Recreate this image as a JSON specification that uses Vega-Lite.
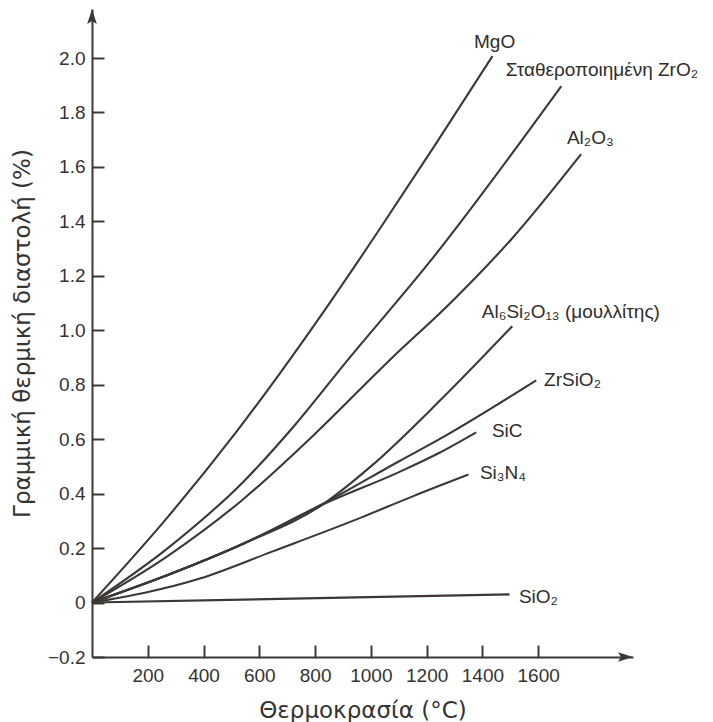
{
  "$schema": "https://vega.github.io/schema/vega-lite/v6.json",
  "width": 541,
  "height": 648,
  "autosize": "none",
  "padding": {"left": 92, "top": 9, "right": 80, "bottom": 65},
  "background": "white",
  "config": {"view": {"stroke": null}, "font": "Liberation Sans"},
  "datasets": {
    "curves": [
      {"material": "MgO", "temp": 0, "expansion": 0},
      {"material": "MgO", "temp": 260, "expansion": 0.3},
      {"material": "MgO", "temp": 519, "expansion": 0.629},
      {"material": "MgO", "temp": 852, "expansion": 1.1},
      {"material": "MgO", "temp": 1024, "expansion": 1.36},
      {"material": "MgO", "temp": 1230, "expansion": 1.68},
      {"material": "MgO", "temp": 1436, "expansion": 2.007},
      {"material": "ZrO2", "temp": 0, "expansion": 0},
      {"material": "ZrO2", "temp": 272, "expansion": 0.2},
      {"material": "ZrO2", "temp": 544, "expansion": 0.445},
      {"material": "ZrO2", "temp": 730, "expansion": 0.655},
      {"material": "ZrO2", "temp": 913, "expansion": 0.886},
      {"material": "ZrO2", "temp": 1210, "expansion": 1.25},
      {"material": "ZrO2", "temp": 1683, "expansion": 1.897},
      {"material": "Al2O3", "temp": 0, "expansion": 0},
      {"material": "Al2O3", "temp": 270, "expansion": 0.17},
      {"material": "Al2O3", "temp": 537, "expansion": 0.375},
      {"material": "Al2O3", "temp": 800, "expansion": 0.62},
      {"material": "Al2O3", "temp": 1067, "expansion": 0.89},
      {"material": "Al2O3", "temp": 1300, "expansion": 1.115},
      {"material": "Al2O3", "temp": 1500, "expansion": 1.33},
      {"material": "Al2O3", "temp": 1754, "expansion": 1.647},
      {"material": "Mullite", "temp": 0, "expansion": 0},
      {"material": "Mullite", "temp": 276, "expansion": 0.103},
      {"material": "Mullite", "temp": 544, "expansion": 0.217},
      {"material": "Mullite", "temp": 827, "expansion": 0.36},
      {"material": "Mullite", "temp": 1000, "expansion": 0.5},
      {"material": "Mullite", "temp": 1246, "expansion": 0.74},
      {"material": "Mullite", "temp": 1507, "expansion": 1.015},
      {"material": "ZrSiO2", "temp": 0, "expansion": 0},
      {"material": "ZrSiO2", "temp": 276, "expansion": 0.103},
      {"material": "ZrSiO2", "temp": 544, "expansion": 0.217},
      {"material": "ZrSiO2", "temp": 827, "expansion": 0.362},
      {"material": "ZrSiO2", "temp": 1103, "expansion": 0.52},
      {"material": "ZrSiO2", "temp": 1246, "expansion": 0.6},
      {"material": "ZrSiO2", "temp": 1593, "expansion": 0.816},
      {"material": "SiC", "temp": 0, "expansion": 0},
      {"material": "SiC", "temp": 276, "expansion": 0.103},
      {"material": "SiC", "temp": 544, "expansion": 0.217},
      {"material": "SiC", "temp": 827, "expansion": 0.36},
      {"material": "SiC", "temp": 1103, "expansion": 0.48},
      {"material": "SiC", "temp": 1246, "expansion": 0.55},
      {"material": "SiC", "temp": 1378, "expansion": 0.625},
      {"material": "Si3N4", "temp": 0, "expansion": 0},
      {"material": "Si3N4", "temp": 387, "expansion": 0.088},
      {"material": "Si3N4", "temp": 648, "expansion": 0.188},
      {"material": "Si3N4", "temp": 960, "expansion": 0.31},
      {"material": "Si3N4", "temp": 1150, "expansion": 0.39},
      {"material": "Si3N4", "temp": 1350, "expansion": 0.47},
      {"material": "SiO2", "temp": 0, "expansion": 0},
      {"material": "SiO2", "temp": 1497, "expansion": 0.03}
    ],
    "labels": [
      {"label": "MgO", "temp": 1370, "expansion": 2.059},
      {"label": "Σταθεροποιημένη ZrO₂", "temp": 1484, "expansion": 1.956},
      {"label": "Al₂O₃", "temp": 1703, "expansion": 1.706},
      {"label": "Al₆Si₂O₁₃ (μουλλίτης)", "temp": 1398, "expansion": 1.067},
      {"label": "ZrSiO₂", "temp": 1621, "expansion": 0.817},
      {"label": "SiC", "temp": 1434, "expansion": 0.63},
      {"label": "Si₃N₄", "temp": 1391, "expansion": 0.476},
      {"label": "SiO₂", "temp": 1531, "expansion": 0.02}
    ]
  },
  "layer": [
    {
      "data": {"name": "curves"},
      "mark": {"type": "line", "interpolate": "monotone", "color": "#3b3835", "strokeWidth": 2.1},
      "encoding": {
        "x": {
          "field": "temp", "type": "quantitative",
          "scale": {"domain": [0, 1940], "nice": false, "zero": false},
          "axis": {
            "values": [200, 400, 600, 800, 1000, 1200, 1400, 1600],
            "format": "d",
            "title": "Θερμοκρασία (°C)",
            "grid": false,
            "domainColor": "#3b3835", "domainWidth": 2,
            "tickColor": "#3b3835", "tickWidth": 2, "tickSize": -12,
            "labelPadding": 21, "labelFontSize": 19, "labelColor": "#333333",
            "labelFont": "Liberation Sans",
            "titleFont": "DejaVu Sans", "titleFontSize": 23, "titleFontWeight": "normal",
            "titleColor": "#333333", "titlePadding": 14
          }
        },
        "y": {
          "field": "expansion", "type": "quantitative",
          "scale": {"domain": [-0.2, 2.18], "nice": false, "zero": false},
          "axis": {
            "values": [-0.2, 0, 0.2, 0.4, 0.6, 0.8, 1.0, 1.2, 1.4, 1.6, 1.8, 2.0],
            "labelExpr": "datum.value == 0 ? '0' : format(datum.value, '.1f')",
            "title": "Γραμμική θερμική διαστολή (%)",
            "grid": false,
            "domainColor": "#3b3835", "domainWidth": 2,
            "tickColor": "#3b3835", "tickWidth": 2, "tickSize": -12,
            "labelPadding": 19, "labelFontSize": 19, "labelColor": "#333333",
            "labelFont": "Liberation Sans",
            "titleFont": "DejaVu Sans", "titleFontSize": 23, "titleFontWeight": "normal",
            "titleColor": "#333333", "titlePadding": 13
          }
        },
        "detail": {"field": "material"}
      }
    },
    {
      "data": {"name": "labels"},
      "mark": {"type": "text", "align": "left", "baseline": "middle", "fontSize": 19, "color": "#2e2e2e", "font": "Liberation Sans"},
      "encoding": {
        "x": {"field": "temp", "type": "quantitative"},
        "y": {"field": "expansion", "type": "quantitative"},
        "text": {"field": "label"}
      }
    },
    {
      "data": {"values": [{}]},
      "mark": {"type": "point", "shape": "M-0.8,2.5L0,0L0.8,2.5L0,2Z", "filled": true, "size": 144, "color": "#3b3835", "opacity": 1},
      "encoding": {
        "x": {"datum": 0, "type": "quantitative"},
        "y": {"datum": 2.18, "type": "quantitative"}
      }
    },
    {
      "data": {"values": [{}]},
      "mark": {"type": "point", "shape": "M-2.5,-0.8L0,0L-2.5,0.8L-2,0Z", "filled": true, "size": 144, "color": "#3b3835", "opacity": 1},
      "encoding": {
        "x": {"datum": 1940, "type": "quantitative"},
        "y": {"datum": -0.2, "type": "quantitative"}
      }
    }
  ]
}
